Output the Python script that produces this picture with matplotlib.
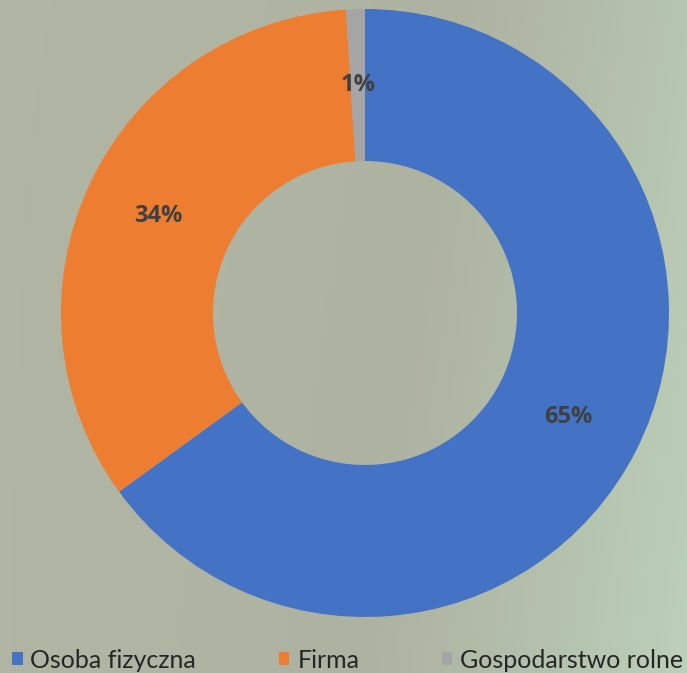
import numpy as np
import matplotlib.pyplot as plt
from matplotlib.colors import LinearSegmentedColormap

categories = ["Osoba fizyczna", "Firma", "Gospodarstwo rolne"]
shares = [65, 34, 1]
colors = ["#4472c4", "#ed7d31", "#a5a5a5"]

W, H, DPI = 687, 673, 100
fig = plt.figure(figsize=(W / DPI, H / DPI), dpi=DPI)

# blurred photo-like background, approximated with a soft gradient
bg = fig.add_axes([0, 0, 1, 1], zorder=-1)
bg_cmap = LinearSegmentedColormap.from_list("bg", ["#b1b6a4", "#aeb2a1", "#b4c2ad", "#bdd0ba"])
yy, xx = np.mgrid[0:1:200j, 0:1:200j]
grad = 0.75 * xx ** 2 + 0.25 * (1 - yy) * xx
bg.imshow(grad, cmap=bg_cmap, aspect="auto", extent=[0, 1, 0, 1], origin="lower")
bg.axis("off")

# donut
cx, cy, r = 365, 313, 304
ax = fig.add_axes([(cx - r) / W, (H - cy - r) / H, 2 * r / W, 2 * r / H])
wedges, _, autotexts = ax.pie(
    shares, colors=colors, startangle=90, counterclock=False,
    wedgeprops=dict(width=0.5, linewidth=0), autopct="%d%%", pctdistance=0.75,
    textprops=dict(fontsize=17, fontweight="bold", color="#404040", family="Open Sans"),
)
ax.set_xlim(-1, 1)
ax.set_ylim(-1, 1)
ax.set_aspect("equal")
ax.axis("off")

leg = fig.legend(
    wedges, categories, loc="center left", bbox_to_anchor=(12 / W, 13 / H),
    ncol=3, frameon=False, borderpad=0, borderaxespad=0,
    handlelength=0.42, handleheight=0.42, handletextpad=0.32, columnspacing=3.3,
    prop=dict(family="Lato", size=18),
)
for t in leg.get_texts():
    t.set_color("#262626")

plt.savefig("out.png", dpi=DPI)
